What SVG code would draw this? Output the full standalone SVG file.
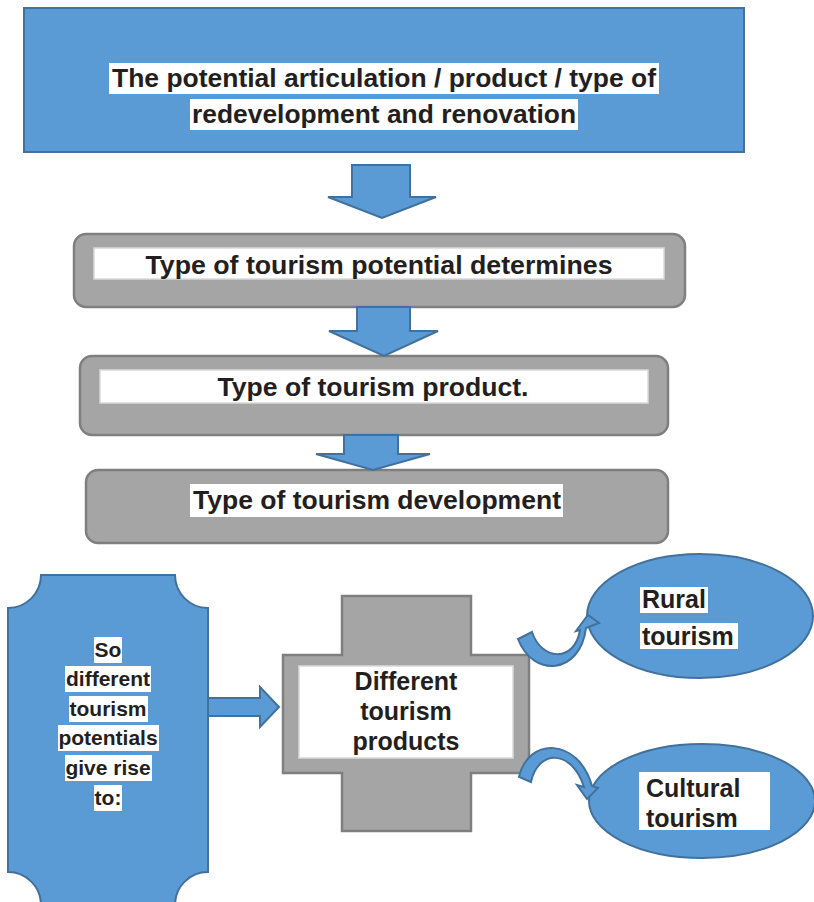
<svg xmlns="http://www.w3.org/2000/svg" width="814" height="902" viewBox="0 0 814 902">
<style>
.blue{fill:#5b9bd5;stroke:#41719c;stroke-width:2}
.gray{fill:#a5a5a5;stroke:#7f7f7f;stroke-width:2.5}
.band{fill:#ffffff;stroke:#d9d9d9;stroke-width:1.5}
.hl{fill:#ffffff}
.t{font-family:"Liberation Sans",Arial,sans-serif;font-weight:bold;fill:#231f20;text-anchor:middle}
.l{font-family:"Liberation Sans",Arial,sans-serif;font-weight:bold;fill:#231f20}
</style>
<rect width="814" height="902" fill="#ffffff"/>

<g id="top-box">
  <rect class="blue" x="24" y="8" width="720" height="144"/>
  <rect class="hl" x="109" y="63" width="550" height="31"/>
  <rect class="hl" x="190" y="99" width="388" height="31"/>
  <text class="t" x="384" y="87" font-size="26" textLength="544" lengthAdjust="spacingAndGlyphs">The potential articulation / product / type of</text>
  <text class="t" x="384" y="123" font-size="26" textLength="384" lengthAdjust="spacingAndGlyphs">redevelopment and renovation</text>
</g>

<g id="potential-box">
  <rect class="gray" x="74" y="234" width="611" height="73" rx="12"/>
  <rect class="band" x="94" y="248" width="570" height="31"/>
  <text class="t" x="379" y="274" font-size="26" textLength="467" lengthAdjust="spacingAndGlyphs">Type of tourism potential determines</text>
</g>

<g id="product-box">
  <rect class="gray" x="80" y="356" width="588" height="79" rx="12"/>
  <rect class="band" x="100" y="370" width="548" height="33"/>
  <text class="t" x="373" y="396" font-size="26" textLength="311" lengthAdjust="spacingAndGlyphs">Type of tourism product.</text>
</g>

<g id="development-box">
  <rect class="gray" x="86" y="470" width="582" height="73" rx="12"/>
  <rect class="hl" x="190" y="484" width="373" height="33"/>
  <text class="t" x="377" y="509" font-size="26" textLength="368" lengthAdjust="spacingAndGlyphs">Type of tourism development</text>
</g>

<g id="potentials-scroll">
  <path class="blue" d="M41 575 L175 575 A33 33 0 0 0 208 608 L208 872 A33 33 0 0 0 175 905 L41 905 A33 33 0 0 0 8 872 L8 608 A33 33 0 0 0 41 575 Z"/>
  <rect class="hl" x="94" y="637" width="28" height="26"/>
  <rect class="hl" x="65" y="666" width="86" height="26"/>
  <rect class="hl" x="69" y="696" width="79" height="26"/>
  <rect class="hl" x="58" y="725" width="101" height="26"/>
  <rect class="hl" x="65" y="755" width="87" height="26"/>
  <rect class="hl" x="94" y="785" width="28" height="26"/>
  <text class="t" x="108" y="657" font-size="21">So</text>
  <text class="t" x="108" y="686" font-size="21">different</text>
  <text class="t" x="108" y="716" font-size="21">tourism</text>
  <text class="t" x="108" y="745" font-size="21">potentials</text>
  <text class="t" x="108" y="775" font-size="21">give rise</text>
  <text class="t" x="108" y="805" font-size="21">to:</text>
</g>

<g id="products-cross">
  <path class="gray" d="M342 596 L471 596 L471 655 L529 655 L529 773 L471 773 L471 831 L342 831 L342 773 L283 773 L283 655 L342 655 Z"/>
  <rect class="band" x="299" y="666" width="214" height="92"/>
  <text class="t" x="406" y="690" font-size="25">Different</text>
  <text class="t" x="406" y="720" font-size="25">tourism</text>
  <text class="t" x="406" y="750" font-size="25">products</text>
</g>

<g id="rural-ellipse">
  <ellipse class="blue" cx="700" cy="616" rx="113" ry="62"/>
  <rect class="hl" x="640" y="587" width="68" height="26"/>
  <rect class="hl" x="640" y="623" width="98" height="26"/>
  <text class="l" x="642" y="608" font-size="25">Rural</text>
  <text class="l" x="642" y="645" font-size="25">tourism</text>
</g>

<g id="cultural-ellipse">
  <ellipse class="blue" cx="702" cy="801" rx="113" ry="57"/>
  <rect class="hl" x="639" y="772" width="131" height="58"/>
  <text class="l" x="646" y="797" font-size="25">Cultural</text>
  <text class="l" x="646" y="827" font-size="25">tourism</text>
</g>

<g id="connectors">
  <path class="blue" d="M352 165 L410 165 L410 197 L436 197 L382 218 L328 197 L352 197 Z"/>
  <path class="blue" d="M357 307 L410 307 L410 331 L438 331 L384 356 L329 331 L357 331 Z"/>
  <path class="blue" d="M344 435 L398 435 L398 454 L430 454 L373 470 L316 454 L344 454 Z"/>
  <path class="blue" d="M208 698 L260 698 L260 687 L279 707 L260 727 L260 716 L208 716 Z"/>
  <path class="blue" stroke-width="1.2" d="M518 639 C533 678 580 675 586 628 L599 623 L588 615 L576 631 L580 630 C575 662 542 662 532 632 Z"/>
  <path class="blue" stroke-width="1.2" d="M519 777 C528 737 578 737 592 786 L598 788 L587 799 L577 785 L584 787 C572 749 538 749 531 782 Z"/>
</g>
</svg>
